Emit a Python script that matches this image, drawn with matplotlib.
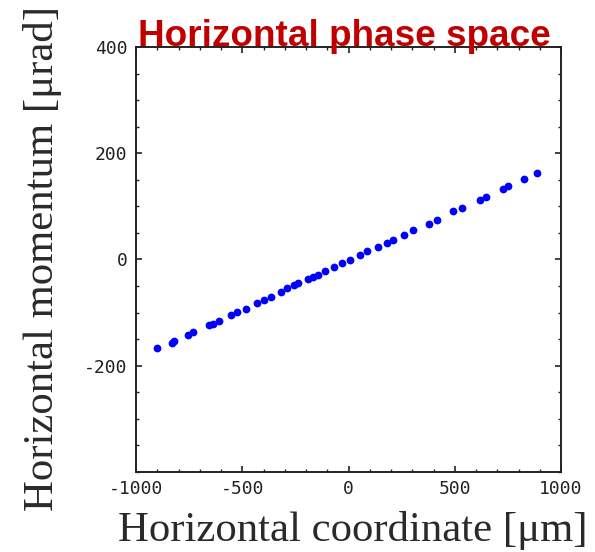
import numpy as np
import matplotlib.pyplot as plt
from matplotlib.ticker import MultipleLocator

# particle coordinates [um] and momenta [urad]
x_um = [-903, -832, -822, -754, -730, -655, -640, -609, -554, -526, -482,
        -432, -396, -365, -319, -288, -256, -239, -189, -165, -142, -111,
        -67, -32, 7, 54, 86, 137, 180, 211, 263, 305, 380, 415, 493, 533,
        619, 647, 729, 752, 826, 889]
p_urad = [-167.3, -156.6, -154.0, -142.1, -135.8, -123.3, -121.0, -116.4,
          -105.0, -98.1, -92.5, -82.4, -75.5, -69.8, -60.4, -54.1, -48.4,
          -44.7, -37.1, -33.3, -28.9, -22.0, -14.5, -6.9, -0.6, 8.8, 15.1,
          23.3, 31.4, 37.1, 46.5, 54.7, 67.3, 74.8, 90.6, 96.9, 111.3,
          117.6, 132.7, 137.7, 151.6, 162.9]

title = 'Horizontal phase space'
xlabel = 'Horizontal coordinate [\u03bcm]'
ylabel = 'Horizontal momentum [\u03bcrad]'

plt.rcParams['axes.unicode_minus'] = False

fig = plt.figure(figsize=(5.95, 5.52), dpi=100)
ax = fig.add_axes([0.2286, 0.1449, 0.7143, 0.77])

ax.plot(x_um, p_urad, 'o', color='#0000ff', markersize=5.6, markeredgewidth=0)

ax.set_xlim(-1000, 1000)
ax.set_ylim(-400, 400)
ax.xaxis.set_major_locator(MultipleLocator(500))
ax.xaxis.set_minor_locator(MultipleLocator(100))
ax.yaxis.set_minor_locator(MultipleLocator(50))
ax.set_yticks([-200, 0, 200, 400])

for s in ax.spines.values():
    s.set_color('#222222')
    s.set_linewidth(1.4)

ax.tick_params(which='both', direction='in', top=True, right=True,
               color='#222222', labelcolor='#222222', labelsize=13)
ax.tick_params(which='major', length=4, width=1.2, pad=6)
ax.tick_params(which='minor', length=2.5, width=1.0)
for lab in ax.get_xticklabels() + ax.get_yticklabels():
    lab.set_family('DejaVu Sans Mono')

fig.text(0.579, 0.9167, title, ha='center', va='baseline',
         fontsize=26.6, fontweight='bold', color='#c00000',
         family='Liberation Sans')
fig.text(0.5924, 0.0199, xlabel, ha='center', va='baseline',
         fontsize=30.8, color='#2a2a2a', family='Liberation Serif')
fig.text(0.0706, 0.5326, ylabel, ha='center', va='center', rotation=90,
         fontsize=30.8, color='#2a2a2a', family='Liberation Serif')

fig.savefig('out.png', dpi=100)
